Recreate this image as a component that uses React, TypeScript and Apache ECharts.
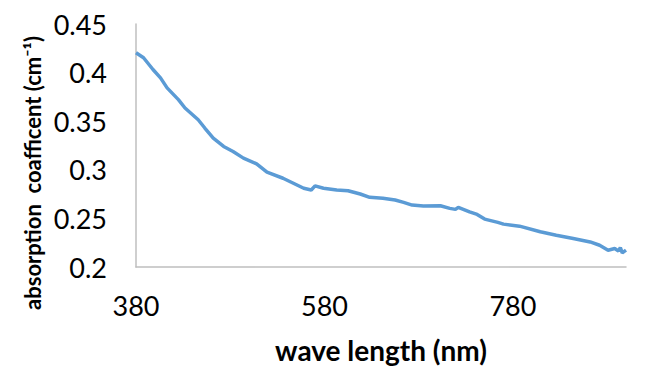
import React, { useEffect, useRef } from "react";
import * as echarts from "echarts";

const wavelengths: number[] = [
  380, 388, 398, 406, 413, 425, 432, 446, 453, 462, 473, 483, 494, 508, 519, 536, 547, 558, 566, 570,
  579, 593, 605, 618, 628, 642, 655, 664, 673, 685, 703, 713, 719, 722, 734, 742, 750, 764, 770, 787,
  809, 826, 844, 862, 872, 881, 888, 892, 894, 896, 900,
];
const absorption: number[] = [
  0.4205, 0.4153, 0.4032, 0.3946, 0.3843, 0.3722, 0.3636, 0.3515, 0.343, 0.3326, 0.324, 0.3188, 0.312,
  0.3061, 0.2975, 0.2913, 0.2862, 0.281, 0.2792, 0.2834, 0.281, 0.2792, 0.2785, 0.2751, 0.2717, 0.2707,
  0.2689, 0.2665, 0.2637, 0.2627, 0.263, 0.2603, 0.2593, 0.2614, 0.2568, 0.2541, 0.2493, 0.2459, 0.2441,
  0.242, 0.2362, 0.2327, 0.2293, 0.2258, 0.2224, 0.2173, 0.219, 0.2165, 0.22, 0.2145, 0.2173,
];
const xTickLabels: number[] = [380, 580, 780];
const xTitle = "wave length (nm)";
const yTitle = "absorption  coafficent (cm\u207B\u00B9)";

export default function App() {
  const ref = useRef<HTMLDivElement>(null);
  useEffect(() => {
    if (!ref.current) return;
    const chart = echarts.init(ref.current, undefined, { renderer: "svg" });
    const data = wavelengths.map((w, i) => [w, absorption[i]]);
    chart.setOption({
      animation: false,
      backgroundColor: "#ffffff",
      grid: { left: 136, right: 29, top: 24, bottom: 111 },
      xAxis: {
        type: "value",
        min: 380,
        max: 900,
        axisLine: { show: true, lineStyle: { color: "#BFBFBF", width: 1.5 } },
        axisTick: { show: false },
        splitLine: { show: false },
        axisLabel: {
          customValues: xTickLabels,
          color: "#000",
          fontFamily: "Lato",
          fontSize: 27,
          margin: 25,
        },
        name: xTitle,
        nameLocation: "middle",
        nameGap: 69,
        nameTextStyle: { color: "#000", fontFamily: "Lato", fontWeight: "bold", fontSize: 28 },
      },
      yAxis: {
        type: "value",
        min: 0.2,
        max: 0.45,
        interval: 0.05,
        axisLine: { show: true, lineStyle: { color: "#BFBFBF", width: 1.5 } },
        axisTick: { show: false },
        splitLine: { show: false },
        axisLabel: {
          color: "#000",
          fontFamily: "Lato",
          fontSize: 27,
          margin: 29,
          formatter: (v: number) => String(Math.round(v * 100) / 100),
        },
      },
      graphic: [
        {
          type: "text",
          x: 32,
          y: 173,
          rotation: Math.PI / 2,
          style: {
            text: yTitle,
            fill: "#000",
            font: "bold 22px Lato",
            align: "center",
            verticalAlign: "middle",
          },
        },
      ],
      series: [
        {
          type: "line",
          data,
          showSymbol: false,
          smooth: false,
          lineStyle: { color: "#5B9BD5", width: 3.5 },
        },
      ],
    });
    return () => chart.dispose();
  }, []);
  return <div ref={ref} style={{ width: 655, height: 378, position: "absolute", left: 0, top: 0 }} />;
}
